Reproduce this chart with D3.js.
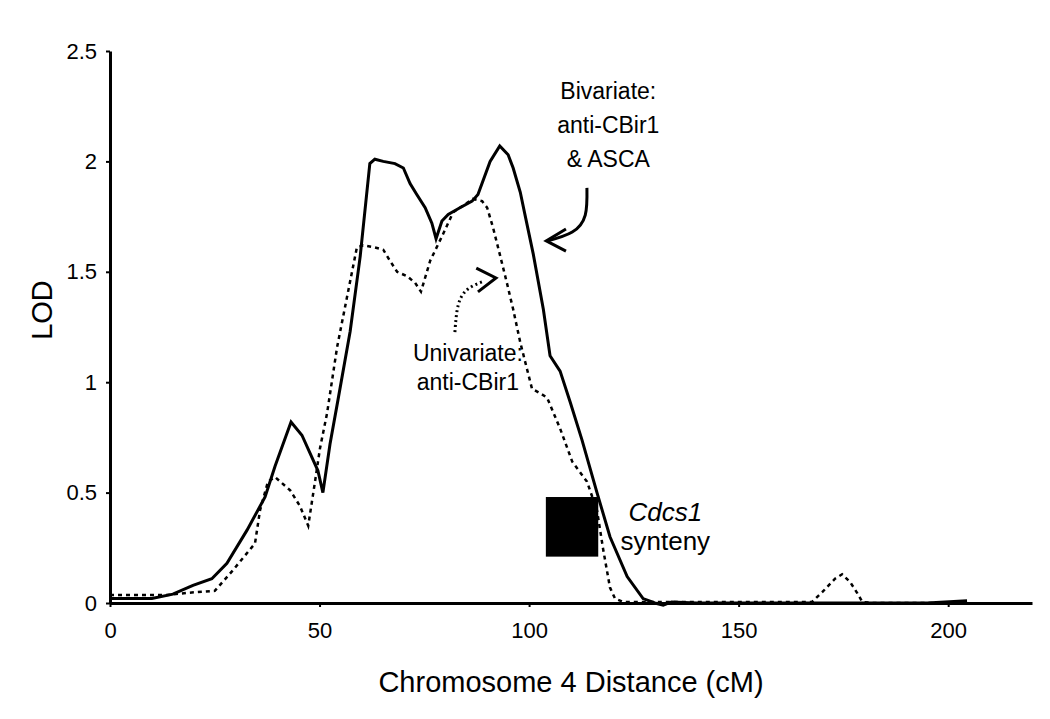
<!DOCTYPE html>
<html>
<head>
<meta charset="utf-8">
<script src="https://cdn.jsdelivr.net/npm/d3@7"></script>
<style>
  body { margin: 0; background: #fff; }
  svg { font-family: "Liberation Sans", Arial, sans-serif; }
</style>
</head>
<body>
<div id="chart"></div>
<script>
// bivariate (anti-CBir1 & ASCA), solid line
const bivariateCM = [0, 5, 10, 15, 19.8, 24.3, 27.9, 32.7, 37, 39.4, 43.2, 45.8, 49.6, 50.8, 52.5, 54.4,
    57.3, 59.7, 62, 63.2, 65.2, 68, 70, 71.6, 73.2, 75.2, 76.8, 77.8, 79.2, 80.7, 83.5, 86.4, 87.8,
    90.7, 93, 95, 96.2, 97.9, 99, 101, 103.4, 105, 107.4, 109.8, 112.6, 116.2, 119.3, 123.4, 127.2,
    130, 132, 134, 140, 160, 180, 195, 204.5];
const bivariateLOD = [0.02, 0.02, 0.02, 0.04, 0.08, 0.11, 0.18, 0.33, 0.48, 0.62, 0.82, 0.76, 0.6, 0.5, 0.72, 0.92,
    1.23, 1.57, 1.99, 2.01, 2.0, 1.99, 1.97, 1.9, 1.85, 1.79, 1.72, 1.65, 1.73, 1.76, 1.79, 1.82, 1.85,
    2.0, 2.07, 2.03, 1.97, 1.86, 1.76, 1.58, 1.33, 1.12, 1.05, 0.91, 0.74, 0.5, 0.3, 0.12, 0.02,
    0.0, -0.01, 0.005, 0.0, 0.0, 0.0, 0.0, 0.01];

// univariate (anti-CBir1), dashed line
const univariateCM = [0, 5.5, 13.6, 18.4, 25, 29.4, 34.6, 35.8, 37.7, 39.4, 43, 45.3, 47.3, 49, 50.1, 51.8,
    54.2, 56.6, 58.9, 60.4, 63.2, 65.2, 66.8, 68.5, 70.9, 72.8, 74.2, 76.4, 79.2, 81.9, 84.3, 86.6,
    88.8, 90, 91.4, 93, 94.7, 96.2, 97.9, 99.5, 100.7, 102.6, 104.3, 107.4, 110.3, 113.8, 116.2,
    117.7, 119.3, 120.5, 122.4, 130, 140, 150, 160, 167.5, 170, 173, 174.7, 176.6, 178.3, 179.5, 182, 204];
const univariateLOD = [0.036, 0.036, 0.036, 0.046, 0.055, 0.15, 0.27, 0.42, 0.55, 0.57, 0.51, 0.44, 0.35, 0.56, 0.7, 0.86,
    1.16, 1.39, 1.61, 1.62, 1.61, 1.6, 1.55, 1.5, 1.48, 1.45, 1.41, 1.55, 1.66, 1.77, 1.8, 1.83,
    1.82, 1.79, 1.7, 1.58, 1.45, 1.33, 1.18, 1.06, 0.97, 0.95, 0.93, 0.79, 0.64, 0.55, 0.42,
    0.24, 0.07, 0.02, 0.005, 0.005, 0.005, 0.005, 0.005, 0.005, 0.05, 0.11, 0.13, 0.095, 0.045, 0.005, 0.0, 0.0];

const xTicks = [0, 50, 100, 150, 200];
const yTicks = [0, 0.5, 1, 1.5, 2, 2.5];

// Cdcs1 synteny block (cM range, LOD range)
const syntenyCM = [104, 116.5];
const syntenyLOD = [0.21, 0.48];

const bivariateText = ["Bivariate:", "anti-CBir1", "& ASCA"];
const univariateText = ["Univariate:", "anti-CBir1"];

const margins = { top: 51, right: 18, bottom: 116, left: 110 };
const width = 1050 - margins.left - margins.right;
const height = 719 - margins.top - margins.bottom;

const svg = d3.select("#chart").append("svg")
    .attr("width", 1050)
    .attr("height", 719)
    .append("g")
    .attr("transform", `translate(${margins.left}, ${margins.top})`);

const xScale = d3.scaleLinear().domain([0, 220]).range([0, width]);
const yScale = d3.scaleLinear().domain([0, 2.5]).range([height, 0]);

const xGroup = svg.append("g")
    .attr("transform", `translate(0, ${height})`)
    .call(d3.axisBottom(xScale).tickValues(xTicks).tickSize(4).tickSizeOuter(0).tickPadding(15));

const yGroup = svg.append("g")
    .call(d3.axisLeft(yScale).tickValues(yTicks).tickFormat(d => d).tickSize(4).tickSizeOuter(0).tickPadding(9));

[xGroup, yGroup].forEach(g => {
    g.select(".domain").attr("stroke-width", 3).attr("stroke", "#000");
    g.selectAll(".tick line").attr("stroke-width", 2).attr("stroke", "#000");
    g.selectAll("text").attr("font-size", "22px").attr("fill", "#000")
        .attr("font-family", "'Liberation Sans', Arial, sans-serif");
});

svg.append("text")
    .attr("x", width / 2)
    .attr("y", height + 89)
    .attr("text-anchor", "middle")
    .attr("font-size", "29px")
    .text("Chromosome 4 Distance (cM)");

svg.append("text")
    .attr("transform", `translate(${52 - margins.left}, ${310 - margins.top}) rotate(-90)`)
    .attr("text-anchor", "middle")
    .attr("font-size", "29px")
    .text("LOD");

const line = d3.line()
    .x(d => xScale(d[0]))
    .y(d => yScale(d[1]));

svg.append("path")
    .attr("d", line(univariateCM.map((c, i) => [c, univariateLOD[i]])))
    .attr("fill", "none")
    .attr("stroke", "#000")
    .attr("stroke-width", 2.5)
    .attr("stroke-dasharray", "4,4");

svg.append("path")
    .attr("d", line(bivariateCM.map((c, i) => [c, bivariateLOD[i]])))
    .attr("fill", "none")
    .attr("stroke", "#000")
    .attr("stroke-width", 3);

svg.append("rect")
    .attr("x", xScale(syntenyCM[0]))
    .attr("y", yScale(syntenyLOD[1]))
    .attr("width", xScale(syntenyCM[1]) - xScale(syntenyCM[0]))
    .attr("height", yScale(syntenyLOD[0]) - yScale(syntenyLOD[1]))
    .attr("fill", "#000");

// annotation arrows, anchored in data units
const curve = d3.line()
    .x(d => xScale(d[0]))
    .y(d => yScale(d[1]))
    .curve(d3.curveNatural);

svg.append("path")
    .attr("d", curve([[113.8, 1.88], [113.4, 1.757], [110.3, 1.68], [104.5, 1.64]]))
    .attr("fill", "none").attr("stroke", "#000").attr("stroke-width", 3);
svg.append("path")
    .attr("d", line([[108.8, 1.694], [104.1, 1.64], [108.8, 1.594]]))
    .attr("fill", "none").attr("stroke", "#000").attr("stroke-width", 3);

svg.append("path")
    .attr("d", curve([[82.3, 1.227], [83.1, 1.35], [85.4, 1.422], [89.3, 1.458]]))
    .attr("fill", "none").attr("stroke", "#000").attr("stroke-width", 3)
    .attr("stroke-dasharray", "2,3");
svg.append("path")
    .attr("d", line([[87.4, 1.517], [92.1, 1.472], [87.8, 1.409]]))
    .attr("fill", "none").attr("stroke", "#000").attr("stroke-width", 3);

svg.append("text")
    .attr("text-anchor", "middle")
    .attr("font-size", "23px")
    .selectAll("tspan")
    .data(bivariateText)
    .join("tspan")
    .attr("x", xScale(118.9))
    .attr("y", (d, i) => yScale(1.973) - (2 - i) * 34)
    .text(d => d);

svg.append("text")
    .attr("text-anchor", "middle")
    .attr("font-size", "23px")
    .selectAll("tspan")
    .data(univariateText)
    .join("tspan")
    .attr("x", xScale(85.4))
    .attr("y", (d, i) => yScale(1.095) + i * 29)
    .text(d => d);

svg.append("text")
    .attr("x", xScale(132.5))
    .attr("y", yScale(0.37))
    .attr("text-anchor", "middle")
    .attr("font-size", "26px")
    .attr("font-style", "italic")
    .text("Cdcs1");

svg.append("text")
    .attr("x", xScale(132.5))
    .attr("y", yScale(0.24))
    .attr("text-anchor", "middle")
    .attr("font-size", "26px")
    .text("synteny");
</script>
</body>
</html>
